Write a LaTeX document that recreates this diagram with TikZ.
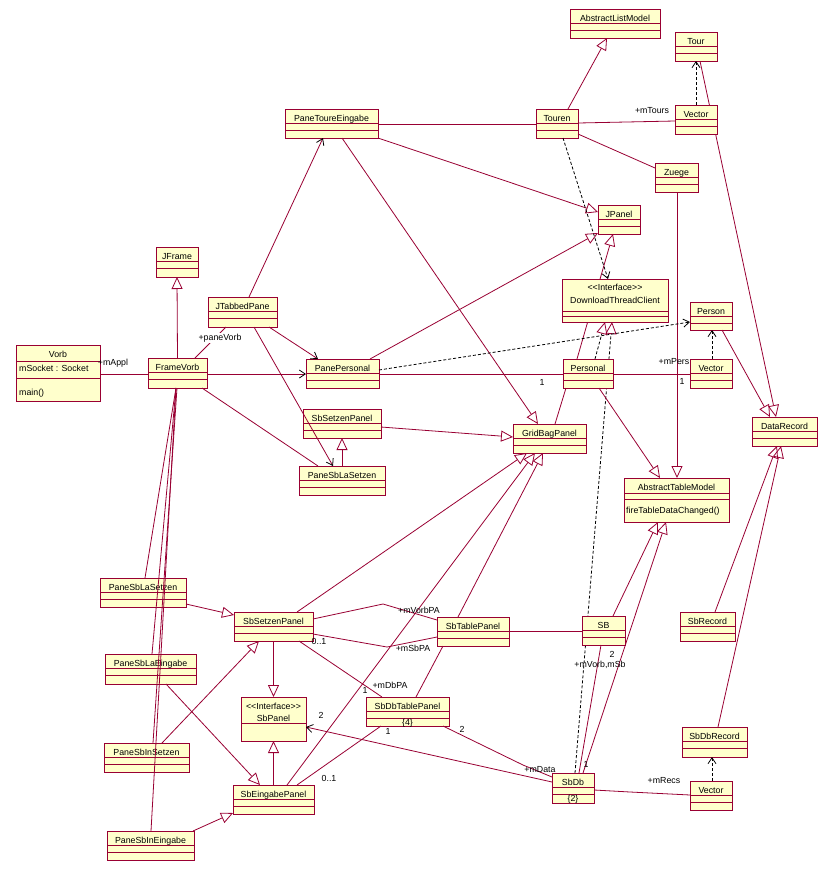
\documentclass[tikz,border=0pt]{standalone}
\usepackage{fontspec}
\setmainfont{Liberation Sans}
\usetikzlibrary{arrows.meta,calc}
\definecolor{cr}{RGB}{153,0,51}
\definecolor{cy}{RGB}{255,255,204}
\pgfdeclarelayer{back}
\pgfdeclarelayer{bg}
\pgfsetlayers{back,bg,main}
\newcommand\ifc{<\kern0pt<Interface>\kern0pt>}
\newcommand\umlclass[6]{%
  \node[cls, anchor=north west, minimum width=#4-#2, minimum height=#5-#3] (#1) at (#2,#3) {};
  \node[ttl, anchor=base] (#1-t) at ($(#1.north)+(0,12)$) {#6};
  \draw[dvd] ($(#1.north west)+(0,14)$) -- ($(#1.north east)+(0,14)$);
  \draw[dvd] ($(#1.north west)+(0,21)$) -- ($(#1.north east)+(0,21)$);
}
\begin{document}
\begin{tikzpicture}[x=1pt, y=-1pt,
  cls/.style={draw=cr, fill=cy, line width=1pt, rectangle, inner sep=0pt, outer sep=0pt},
  dvd/.style={draw=cr, line width=1pt},
  ttl/.style={font=\fontsize{8.8}{10}\selectfont, inner sep=0pt, text height=6.5pt, text depth=1.8pt},
  lbl/.style={font=\fontsize{8.8}{10}\selectfont, inner sep=0pt, text height=6.5pt, text depth=1.8pt},
  assoc/.style={draw=cr, line width=0.8pt},
  gen/.style={draw=cr, line width=0.8pt, -{Triangle[open, length=12pt, width=11pt]}},
  nav/.style={draw=cr, line width=0.8pt, -{Straight Barb[length=6pt, width=8pt, color=black]}},
  dep/.style={draw=black, line width=0.8pt, dash pattern=on 3pt off 2pt, -{Straight Barb[length=6pt, width=8pt]}},
  real/.style={draw=black, line width=0.8pt, dash pattern=on 3pt off 2pt, -{Triangle[open, length=12pt, width=11pt, color=cr]}}
]
\begin{pgfonlayer}{back}
\fill[white] (0,0) rectangle (827,871);
\end{pgfonlayer}
\useasboundingbox (0,0) rectangle (827,871);

% ---------- special classes ----------
\node[cls, anchor=north west, minimum width=84, minimum height=56] (Vorb) at (16,345) {};
\node[ttl, anchor=base] (Vorb-t) at ($(Vorb.north)+(0,12)$) {Vorb};
\draw[dvd] ($(Vorb.north west)+(0,16)$) -- ($(Vorb.north east)+(0,16)$);
\draw[dvd] ($(Vorb.north west)+(0,33)$) -- ($(Vorb.north east)+(0,33)$);
\node[ttl, anchor=base west] (Vorb-a) at ($(Vorb.north west)+(3,26)$) {mSocket : Socket};
\node[ttl, anchor=base west] (Vorb-m) at ($(Vorb.north west)+(3,50)$) {main()};

\node[cls, anchor=north west, minimum width=106, minimum height=43] (DTC) at (562,279) {};
\node[ttl, anchor=base] (DTC-s) at ($(DTC.north)+(0,11.5)$) {\ifc};
\node[ttl, anchor=base] (DTC-t) at ($(DTC.north)+(0,24)$) {DownloadThreadClient};
\draw[dvd] ($(DTC.north west)+(0,32)$) -- ($(DTC.north east)+(0,32)$);
\draw[dvd] ($(DTC.north west)+(0,37)$) -- ($(DTC.north east)+(0,37)$);

\node[cls, anchor=north west, minimum width=105, minimum height=44] (ATM) at (624,478) {};
\node[ttl, anchor=base] (ATM-t) at ($(ATM.north)+(0,12.5)$) {AbstractTableModel};
\draw[dvd] ($(ATM.north west)+(0,15)$) -- ($(ATM.north east)+(0,15)$);
\draw[dvd] ($(ATM.north west)+(0,21)$) -- ($(ATM.north east)+(0,21)$);
\node[ttl, anchor=base west] (ATM-m) at ($(ATM.north west)+(2,35)$) {fireTableDataChanged()};

\node[cls, anchor=north west, minimum width=65, minimum height=44] (SbPanel) at (241,697) {};
\node[ttl, anchor=base] (SbPanel-s) at ($(SbPanel.north)+(0,12)$) {\ifc};
\node[ttl, anchor=base] (SbPanel-t) at ($(SbPanel.north)+(0,24)$) {SbPanel};
\draw[dvd] ($(SbPanel.north west)+(0,26)$) -- ($(SbPanel.north east)+(0,26)$);

% ---------- regular classes ----------
\umlclass{FrameVorb}{148}{358}{207}{388}{FrameVorb}
\umlclass{JFrame}{156}{247}{198}{277}{JFrame}
\umlclass{JTabbedPane}{208}{297}{277}{327}{JTabbedPane}
\umlclass{PanePersonal}{306}{359}{379}{388}{PanePersonal}
\umlclass{SbSetzenPanelA}{303}{409}{381}{438}{SbSetzenPanel}
\umlclass{PaneSbLaSetzenA}{299}{466}{385}{495}{PaneSbLaSetzen}
\umlclass{PaneToureEingabe}{285}{109}{378}{138}{PaneToureEingabe}
\umlclass{Touren}{536}{109}{578}{138}{Touren}
\umlclass{AbstractListModel}{570}{9}{660}{38}{AbstractListModel}
\umlclass{Tour}{675}{32}{717}{61}{Tour}
\umlclass{VectorT}{675}{105}{717}{134}{Vector}
\umlclass{Zuege}{655}{163}{698}{192}{Zuege}
\umlclass{JPanel}{598}{205}{640}{234}{JPanel}
\umlclass{Person}{690}{302}{732}{330}{Person}
\umlclass{Personal}{563}{359}{613}{388}{Personal}
\umlclass{VectorP}{690}{359}{732}{388}{Vector}
\umlclass{DataRecord}{752}{417}{817}{446}{DataRecord}
\umlclass{GridBagPanel}{513}{424}{586}{453}{GridBagPanel}
\umlclass{PaneSbLaSetzenB}{100}{578}{186}{607}{PaneSbLaSetzen}
\umlclass{PaneSbLaEingabe}{105}{654}{196}{684}{PaneSbLaEingabe}
\umlclass{PaneSbInSetzen}{104}{743}{189}{772}{PaneSbInSetzen}
\umlclass{PaneSbInEingabe}{107}{831}{194}{860}{PaneSbInEingabe}
\umlclass{SbSetzenPanelB}{234}{612}{313}{641}{SbSetzenPanel}
\umlclass{SbEingabePanel}{233}{785}{314}{814}{SbEingabePanel}
\umlclass{SbTablePanel}{437}{617}{509}{646}{SbTablePanel}
\umlclass{SbDbTablePanel}{366}{697}{449}{726}{SbDbTablePanel}
\umlclass{SB}{582}{616}{625}{645}{SB}
\umlclass{SbRecord}{680}{612}{735}{641}{SbRecord}
\umlclass{SbDbRecord}{682}{727}{747}{757}{SbDbRecord}
\umlclass{SbDb}{552}{773}{594}{803}{SbDb}
\umlclass{VectorB}{690}{781}{732}{810}{Vector}
\node[ttl, anchor=base] (SbDbTablePanel-c) at ($(SbDbTablePanel.north)+(0,28)$) {\{4\}};
\node[ttl, anchor=base] (SbDb-c) at ($(SbDb.north)+(0,28)$) {\{2\}};

% ---------- connectors hidden behind boxes ----------
\begin{pgfonlayer}{bg}
\draw[gen] ($(Tour.north west)+(25,29)$) -- ($(DataRecord.north west)+(24,0)$);
\draw[gen] ($(Personal.north west)+(14,0)$) -- ($(JPanel.north west)+(15,29)$);
\draw[real] ($(SbDb.north west)+(23,0)$) -- ($(DTC.north west)+(50,43)$);
\end{pgfonlayer}

% ---------- bend points ----------
\coordinate (bVorbPA) at (383,604);
\coordinate (bSbPA) at (387,647);
\coordinate (bData) at (523,765);
\coordinate (bRecs) at (630,792);

% ---------- connectors ----------
\draw[assoc] ($(Vorb.north west)+(84,29)$) -- ($(FrameVorb.north west)+(0,16)$);
\draw[gen] (FrameVorb.north) -- (JFrame.south);
\draw[nav] ($(FrameVorb.north west)+(59,16)$) -- ($(PanePersonal.north west)+(0,15)$);
\draw[assoc] ($(FrameVorb.north west)+(47,0)$) -- ($(JTabbedPane.north west)+(18,30)$);
\draw[assoc] ($(FrameVorb.north west)+(54,30)$) -- ($(PaneSbLaSetzenA.north west)+(19,0)$);
\draw[nav] ($(JTabbedPane.north west)+(61,30)$) -- ($(PanePersonal.north west)+(12,0)$);
\draw[nav] ($(JTabbedPane.north west)+(46,30)$) -- ($(PaneSbLaSetzenA.north west)+(34,0)$);
\draw[nav] ($(JTabbedPane.north west)+(41,0)$) -- ($(PaneToureEingabe.north west)+(38,29)$);
\draw[assoc] ($(PaneToureEingabe.north west)+(93,15)$) -- ($(Touren.north west)+(0,15)$);
\draw[gen] ($(PaneToureEingabe.north west)+(93,29)$) -- ($(JPanel.north west)+(0,7)$);
\draw[gen] ($(PaneToureEingabe.north west)+(57,29)$) -- ($(GridBagPanel.north west)+(25,0)$);
\draw[gen] ($(Touren.north west)+(32,0)$) -- ($(AbstractListModel.north west)+(37,29)$);
\draw[assoc] ($(Touren.north west)+(42,14)$) -- ($(VectorT.north west)+(0,16)$);
\draw[assoc] ($(Touren.north west)+(42,25)$) -- ($(Zuege.north west)+(0,5)$);
\draw[dep] ($(Touren.north west)+(27,29)$) -- ($(DTC.north west)+(46,0)$);
\draw[dep] ($(VectorT.north west)+(21,0)$) -- ($(Tour.north west)+(21,29)$);
\draw[gen] ($(Zuege.north west)+(22,29)$) -- ($(ATM.north west)+(53,0)$);
\draw[gen] ($(PanePersonal.north west)+(64,0)$) -- ($(JPanel.north west)+(0,28)$);
\draw[dep] ($(PanePersonal.north west)+(73,11)$) -- ($(Person.north west)+(0,20)$);
\draw[assoc] ($(PanePersonal.north west)+(73,15)$) -- ($(Personal.north west)+(0,15)$);
\draw[assoc] ($(Personal.north west)+(50,15)$) -- ($(VectorP.north west)+(0,15)$);
\draw[dep] ($(VectorP.north west)+(22,0)$) -- ($(Person.north west)+(22,28)$);
\draw[gen] ($(Person.north west)+(32,28)$) -- ($(DataRecord.north west)+(18,0)$);
\draw[real] ($(Personal.north west)+(32,0)$) -- ($(DTC.north west)+(43,43)$);
\draw[assoc] ($(Personal.north west)+(3,29)$) -- ($(GridBagPanel.north west)+(42,0)$);
\draw[gen] ($(Personal.north west)+(36,29)$) -- ($(ATM.north west)+(36,0)$);
\draw[gen] ($(SbSetzenPanelA.north west)+(78,18)$) -- ($(GridBagPanel.north west)+(0,13)$);
\draw[gen] (PaneSbLaSetzenA.north) -- (SbSetzenPanelA.south);
\draw[assoc] ($(FrameVorb.north west)+(28,30)$) -- ($(PaneSbLaSetzenB.north west)+(45,0)$);
\draw[assoc] ($(FrameVorb.north west)+(28,30)$) -- ($(PaneSbLaEingabe.north west)+(47,0)$);
\draw[assoc] ($(FrameVorb.north west)+(29,30)$) -- ($(PaneSbInSetzen.north west)+(49,0)$);
\draw[assoc] ($(FrameVorb.north west)+(28,30)$) -- ($(PaneSbInEingabe.north west)+(44,0)$);
\draw[gen] ($(PaneSbLaSetzenB.north west)+(86,26)$) -- ($(SbSetzenPanelB.north west)+(0,3)$);
\draw[gen] ($(PaneSbLaEingabe.north west)+(61,30)$) -- ($(SbEingabePanel.north west)+(27,0)$);
\draw[gen] ($(PaneSbInSetzen.north west)+(58,0)$) -- ($(SbSetzenPanelB.north west)+(25,29)$);
\draw[gen] ($(PaneSbInEingabe.north west)+(86,0)$) -- ($(SbEingabePanel.north west)+(0,28)$);
\draw[gen] (SbSetzenPanelB.south) -- (SbPanel.north);
\draw[gen] (SbEingabePanel.north) -- (SbPanel.south);
\draw[gen] ($(SbSetzenPanelB.north west)+(63,0)$) -- ($(GridBagPanel.north west)+(14,29)$);
\draw[gen] ($(SbEingabePanel.north west)+(54,0)$) -- ($(GridBagPanel.north west)+(22,29)$);
\draw[gen] ($(SbTablePanel.north west)+(21,0)$) -- ($(GridBagPanel.north west)+(30,29)$);
\draw[assoc] ($(SbSetzenPanelB.north west)+(79,7)$) -- (bVorbPA) -- ($(SbTablePanel.north west)+(0,3)$);
\draw[assoc] ($(SbSetzenPanelB.north west)+(79,22)$) -- (bSbPA) -- ($(SbTablePanel.north west)+(0,20)$);
\draw[assoc] ($(SbSetzenPanelB.north west)+(65,29)$) -- ($(SbDbTablePanel.north west)+(16,0)$);
\draw[assoc] ($(SbTablePanel.north west)+(6,29)$) -- ($(SbDbTablePanel.north west)+(50,0)$);
\draw[assoc] ($(SbTablePanel.north west)+(72,14)$) -- ($(SB.north west)+(0,15)$);
\draw[assoc] ($(SbDbTablePanel.north west)+(15,29)$) -- ($(SbEingabePanel.north west)+(64,0)$);
\draw[assoc] ($(SbDbTablePanel.north west)+(77,29)$) -- (bData) -- ($(SbDb.north west)+(0,4)$);
\draw[nav] ($(SbDb.north west)+(0,9)$) -- ($(SbPanel.north west)+(65,30)$);
\draw[assoc] ($(SbDb.north west)+(27,0)$) -- ($(SB.north west)+(19,29)$);
\draw[gen] ($(SB.north west)+(31,0)$) -- ($(ATM.north west)+(34,44)$);
\draw[gen] ($(SbDb.north west)+(31,0)$) -- ($(ATM.north west)+(42,44)$);
\draw[gen] ($(SbRecord.north west)+(35,0)$) -- ($(DataRecord.north west)+(25,29)$);
\draw[gen] ($(SbDbRecord.north west)+(36,0)$) -- ($(DataRecord.north west)+(29,29)$);
\draw[assoc] ($(SbDb.north west)+(42,17)$) -- (bRecs) -- ($(VectorB.north west)+(0,14)$);
\draw[dep] ($(VectorB.north west)+(22,0)$) -- ($(SbDbRecord.north west)+(30,30)$);

% ---------- labels ----------
\node[lbl] (l1) at (113,363) {+mAppl};
\node[lbl, fill=white, inner sep=0.5pt] (l2) at (220,338) {+paneVorb};
\node[lbl] (l3) at (652,111) {+mTours};
\node[lbl] (l4) at (542,383) {1};
\node[lbl] (l5) at (674,362) {+mPers};
\node[lbl] (l6) at (682,382) {1};
\node[lbl] (l7) at (419,611) {+mVorbPA};
\node[lbl] (l8) at (319,642) {0..1};
\node[lbl] (l9) at (413,649) {+mSbPA};
\node[lbl] (l10) at (365,691) {1};
\node[lbl] (l11) at (390,686) {+mDbPA};
\node[lbl] (l12) at (321,716) {2};
\node[lbl] (l13) at (388,732) {1};
\node[lbl] (l14) at (329,779) {0..1};
\node[lbl] (l15) at (462,730) {2};
\node[lbl] (l16) at (540,770) {+mData};
\node[lbl] (l17) at (586,765) {1};
\node[lbl] (l18) at (612,655) {2};
\node[lbl] (l19) at (600,665) {+mVorb,mSb};
\node[lbl] (l20) at (664,781) {+mRecs};
\end{tikzpicture}
\end{document}
